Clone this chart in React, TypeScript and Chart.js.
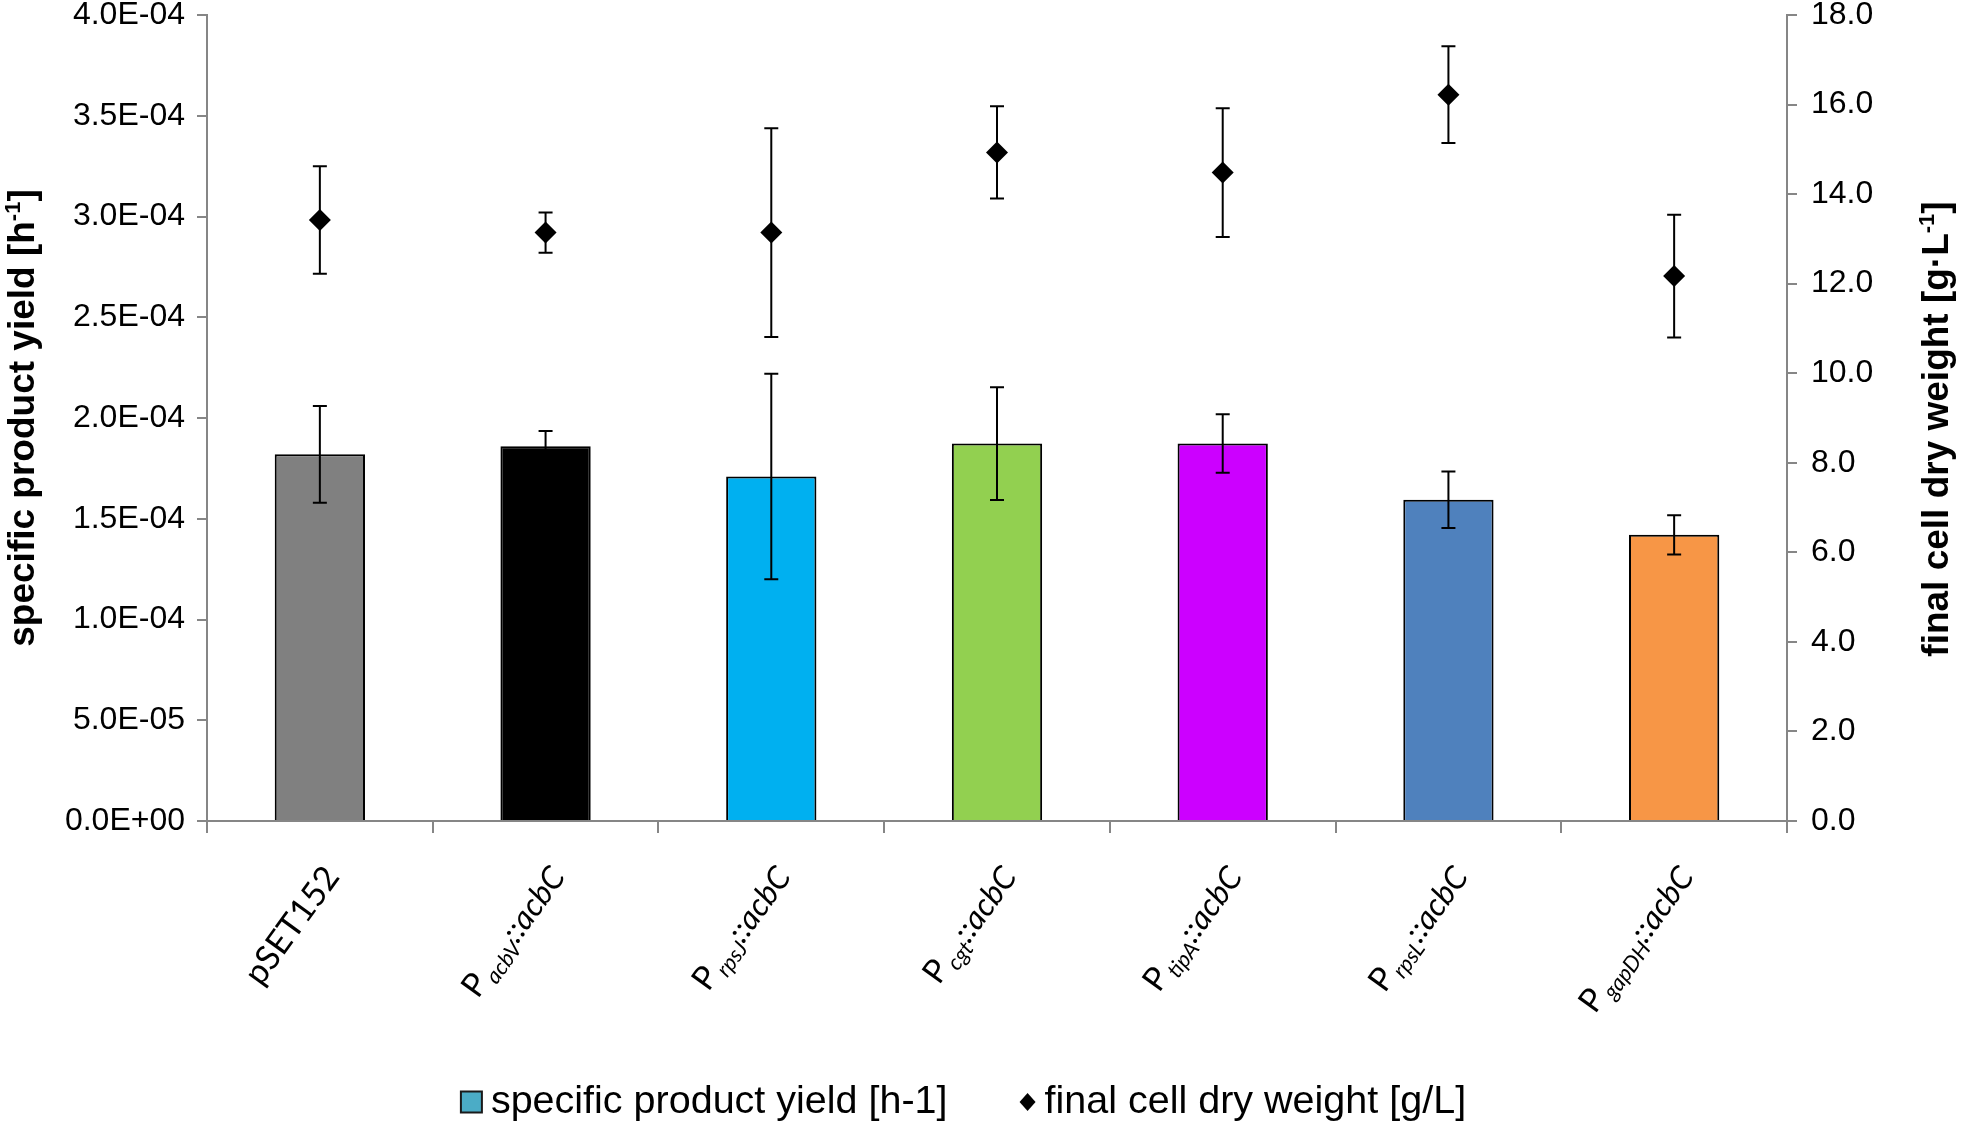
import React, { useEffect, useRef } from "react";
import { Chart, registerables } from "chart.js";

Chart.register(...registerables);

const categories = ["pSET152", "PacbV::acbC", "PrpsJ::acbC", "Pcgt::acbC", "PtipA::acbC", "PrpsL::acbC", "PgapDH::acbC"];
const labelMain = ["pSET152", "P", "P", "P", "P", "P", "P"];
const labelSub = ["", "acbV", "rpsJ", "cgt", "tipA", "rpsL", "gapDH"];
const labelSuffix = ["", "::acbC", "::acbC", "::acbC", "::acbC", "::acbC", "::acbC"];

const yieldValues = [1.82e-4, 1.86e-4, 1.71e-4, 1.873e-4, 1.873e-4, 1.594e-4, 1.42e-4];
const yieldErrors = [0.24e-4, 0.075e-4, 0.51e-4, 0.28e-4, 0.145e-4, 0.14e-4, 0.097e-4];
const cdwValues = [13.42, 13.14, 13.14, 14.93, 14.48, 16.22, 12.17];
const cdwErrors = [1.2, 0.45, 2.33, 1.03, 1.44, 1.08, 1.37];

const barColors = ["#808080", "#000000", "#00B0F0", "#92D050", "#CC00FF", "#4F81BD", "#F79646"];

const leftTitle = ["specific product yield [h", "-1", "]"];
const rightTitle = ["final cell dry weight [g\u00B7L", "-1", "]"];
const legendLabels = ["specific product yield [h-1]", "final cell dry weight [g/L]"];

const fmtSci = (v: number) => {
  if (Math.abs(v) < 1e-12) return "0.0E+00";
  const s = v.toExponential(1);
  const [m, e] = s.split("e");
  const sign = e[0] === "-" ? "-" : "+";
  const d = e.replace(/[+-]/, "").padStart(2, "0");
  return `${m}E${sign}${d}`;
};

type Seg = { text: string; font: string; dy: number };

function drawSegs(ctx: CanvasRenderingContext2D, segs: Seg[], align: "right" | "center") {
  let total = 0;
  const widths = segs.map((s) => {
    ctx.font = s.font;
    const w = ctx.measureText(s.text).width;
    total += w;
    return w;
  });
  let x = align === "right" ? -total : -total / 2;
  segs.forEach((s, i) => {
    ctx.font = s.font;
    ctx.fillText(s.text, x, s.dy);
    x += widths[i];
  });
}

const AXIS = "#868686";
const TICKFONT = "Liberation Sans, Arial, sans-serif";
const LABELFONT = 'Lato, "Open Sans", sans-serif';

const overlay = {
  id: "overlay",
  afterDatasetsDraw(chart: any) {
    const ctx: CanvasRenderingContext2D = chart.ctx;
    const y = chart.scales.y;
    const y1 = chart.scales.y1;
    const m0 = chart.getDatasetMeta(0);
    const m1 = chart.getDatasetMeta(1);
    ctx.save();
    ctx.strokeStyle = "#000";
    ctx.lineWidth = 2;
    const cap = 7;
    const bar = (x: number, a: number, b: number) => {
      ctx.beginPath();
      ctx.moveTo(x, a);
      ctx.lineTo(x, b);
      ctx.moveTo(x - cap, a);
      ctx.lineTo(x + cap, a);
      ctx.moveTo(x - cap, b);
      ctx.lineTo(x + cap, b);
      ctx.stroke();
    };
    yieldValues.forEach((v, i) => {
      const x = m0.data[i].x;
      bar(x, y.getPixelForValue(v + yieldErrors[i]), y.getPixelForValue(v - yieldErrors[i]));
    });
    cdwValues.forEach((v, i) => {
      const x = m1.data[i].x;
      bar(x, y1.getPixelForValue(v + cdwErrors[i]), y1.getPixelForValue(v - cdwErrors[i]));
    });
    ctx.restore();
  },
  afterDraw(chart: any) {
    const ctx: CanvasRenderingContext2D = chart.ctx;
    const xs = chart.scales.x;
    const area = chart.chartArea;
    ctx.save();
    ctx.fillStyle = "#000";
    ctx.textBaseline = "alphabetic";
    // category labels
    const plain = `34px ${LABELFONT}`;
    const main = `33px ${LABELFONT}`;
    const ital = `italic 32px ${LABELFONT}`;
    const sub = `italic 22px ${LABELFONT}`;
    categories.forEach((_, i) => {
      const cx = xs.getPixelForValue(i);
      ctx.save();
      ctx.translate(cx + 21, area.bottom + 56);
      ctx.rotate((-54 * Math.PI) / 180);
      const segs: Seg[] = [];
      if (labelSub[i]) {
        segs.push({ text: labelMain[i], font: main, dy: 0 });
        segs.push({ text: " ", font: `italic 12px ${LABELFONT}`, dy: 0 });
        segs.push({ text: labelSub[i], font: sub, dy: 7 });
        segs.push({ text: labelSuffix[i], font: ital, dy: 0 });
      } else {
        segs.push({ text: labelMain[i], font: plain, dy: 0 });
      }
      drawSegs(ctx, segs, "right");
      ctx.restore();
    });
    // axis titles
    const tf = `bold 37px ${TICKFONT}`;
    const tsup = `bold 22px ${TICKFONT}`;
    ctx.textBaseline = "middle";
    ctx.save();
    ctx.translate(24, (area.top + area.bottom) / 2);
    ctx.rotate(-Math.PI / 2);
    drawSegs(ctx, [
      { text: leftTitle[0], font: tf, dy: 0 },
      { text: leftTitle[1], font: tsup, dy: -10 },
      { text: leftTitle[2], font: tf, dy: 0 },
    ], "center");
    ctx.restore();
    ctx.save();
    ctx.translate(1938, (area.top + area.bottom) / 2 + 11);
    ctx.rotate(-Math.PI / 2);
    drawSegs(ctx, [
      { text: rightTitle[0], font: tf, dy: 0 },
      { text: rightTitle[1], font: tsup, dy: -10 },
      { text: rightTitle[2], font: tf, dy: 0 },
    ], "center");
    ctx.restore();
    // legend
    const lf = `39.5px ${TICKFONT}`;
    const ly = 1102;
    ctx.font = lf;
    const w1 = ctx.measureText(legendLabels[0]).width;
    const w2 = ctx.measureText(legendLabels[1]).width;
    const box = 21;
    const gapBox = 9;
    const gapItems = 72;
    const total = box + gapBox + w1 + gapItems + 16 + gapBox + w2;
    let x = chart.width / 2 - total / 2 - 17;
    ctx.fillStyle = "#4BACC6";
    ctx.fillRect(x, ly - box / 2, box, box);
    ctx.strokeStyle = "#1a1a1a";
    ctx.lineWidth = 2;
    ctx.strokeRect(x, ly - box / 2, box, box);
    ctx.fillStyle = "#000";
    ctx.textAlign = "left";
    ctx.fillText(legendLabels[0], x + box + gapBox, ly);
    x += box + gapBox + w1 + gapItems;
    ctx.beginPath();
    ctx.moveTo(x + 8, ly - 9);
    ctx.lineTo(x + 16, ly);
    ctx.lineTo(x + 8, ly + 9);
    ctx.lineTo(x, ly);
    ctx.closePath();
    ctx.fill();
    ctx.fillText(legendLabels[1], x + 16 + gapBox, ly);
    ctx.restore();
  },
};

export default function App() {
  const ref = useRef<HTMLCanvasElement>(null);
  useEffect(() => {
    if (!ref.current) return;
    const chart = new Chart(ref.current, {
      type: "bar",
      data: {
        labels: categories,
        datasets: [
          {
            type: "bar",
            data: yieldValues,
            backgroundColor: barColors,
            borderColor: "#000",
            borderWidth: 2,
            yAxisID: "y",
            barPercentage: 0.4,
            categoryPercentage: 1,
            order: 2,
          } as any,
          {
            type: "line",
            data: cdwValues,
            showLine: false,
            pointStyle: "rectRot",
            pointRadius: 11,
            pointHoverRadius: 11,
            backgroundColor: "#000",
            borderColor: "#000",
            borderWidth: 0,
            yAxisID: "y1",
            order: 1,
          } as any,
        ],
      },
      options: {
        animation: false,
        responsive: true,
        maintainAspectRatio: false,
        layout: { padding: { top: 15, left: 0, right: 0, bottom: 0 } },
        plugins: { legend: { display: false }, tooltip: { enabled: false } },
        scales: {
          x: {
            offset: true,
            grid: { display: true, drawOnChartArea: false, drawTicks: true, tickLength: 12, color: AXIS, lineWidth: 2, offset: true },
            border: { display: true, color: AXIS, width: 2 },
            ticks: { display: false },
            afterFit(s: any) {
              s.height = 305;
              s.paddingLeft = 0;
              s.paddingRight = 0;
            },
          },
          y: {
            position: "left",
            min: 0,
            max: 4e-4,
            grid: { drawOnChartArea: false, tickLength: 10, color: AXIS, lineWidth: 2 },
            border: { display: true, color: AXIS, width: 2 },
            ticks: {
              stepSize: 5e-5,
              callback: (v: any) => fmtSci(Number(v)),
              font: { family: TICKFONT, size: 32, lineHeight: 1 },
              color: "#000",
              padding: 12,
            },
            afterFit(s: any) {
              s.width = 207;
              s.paddingTop = 0;
              s.paddingBottom = 0;
            },
          },
          y1: {
            position: "right",
            min: 0,
            max: 18,
            grid: { drawOnChartArea: false, tickLength: 10, color: AXIS, lineWidth: 2 },
            border: { display: true, color: AXIS, width: 2 },
            ticks: {
              stepSize: 2,
              callback: (v: any) => Number(v).toFixed(1),
              font: { family: TICKFONT, size: 32, lineHeight: 1 },
              color: "#000",
              padding: 14,
            },
            afterFit(s: any) {
              s.width = 174;
              s.paddingTop = 0;
              s.paddingBottom = 0;
            },
          },
        },
      },
      plugins: [overlay],
    });
    return () => chart.destroy();
  }, []);
  return (
    <div style={{ position: "fixed", left: 0, top: 0, width: "1961px", height: "1126px", background: "#fff" }}>
      <canvas ref={ref} />
    </div>
  );
}
